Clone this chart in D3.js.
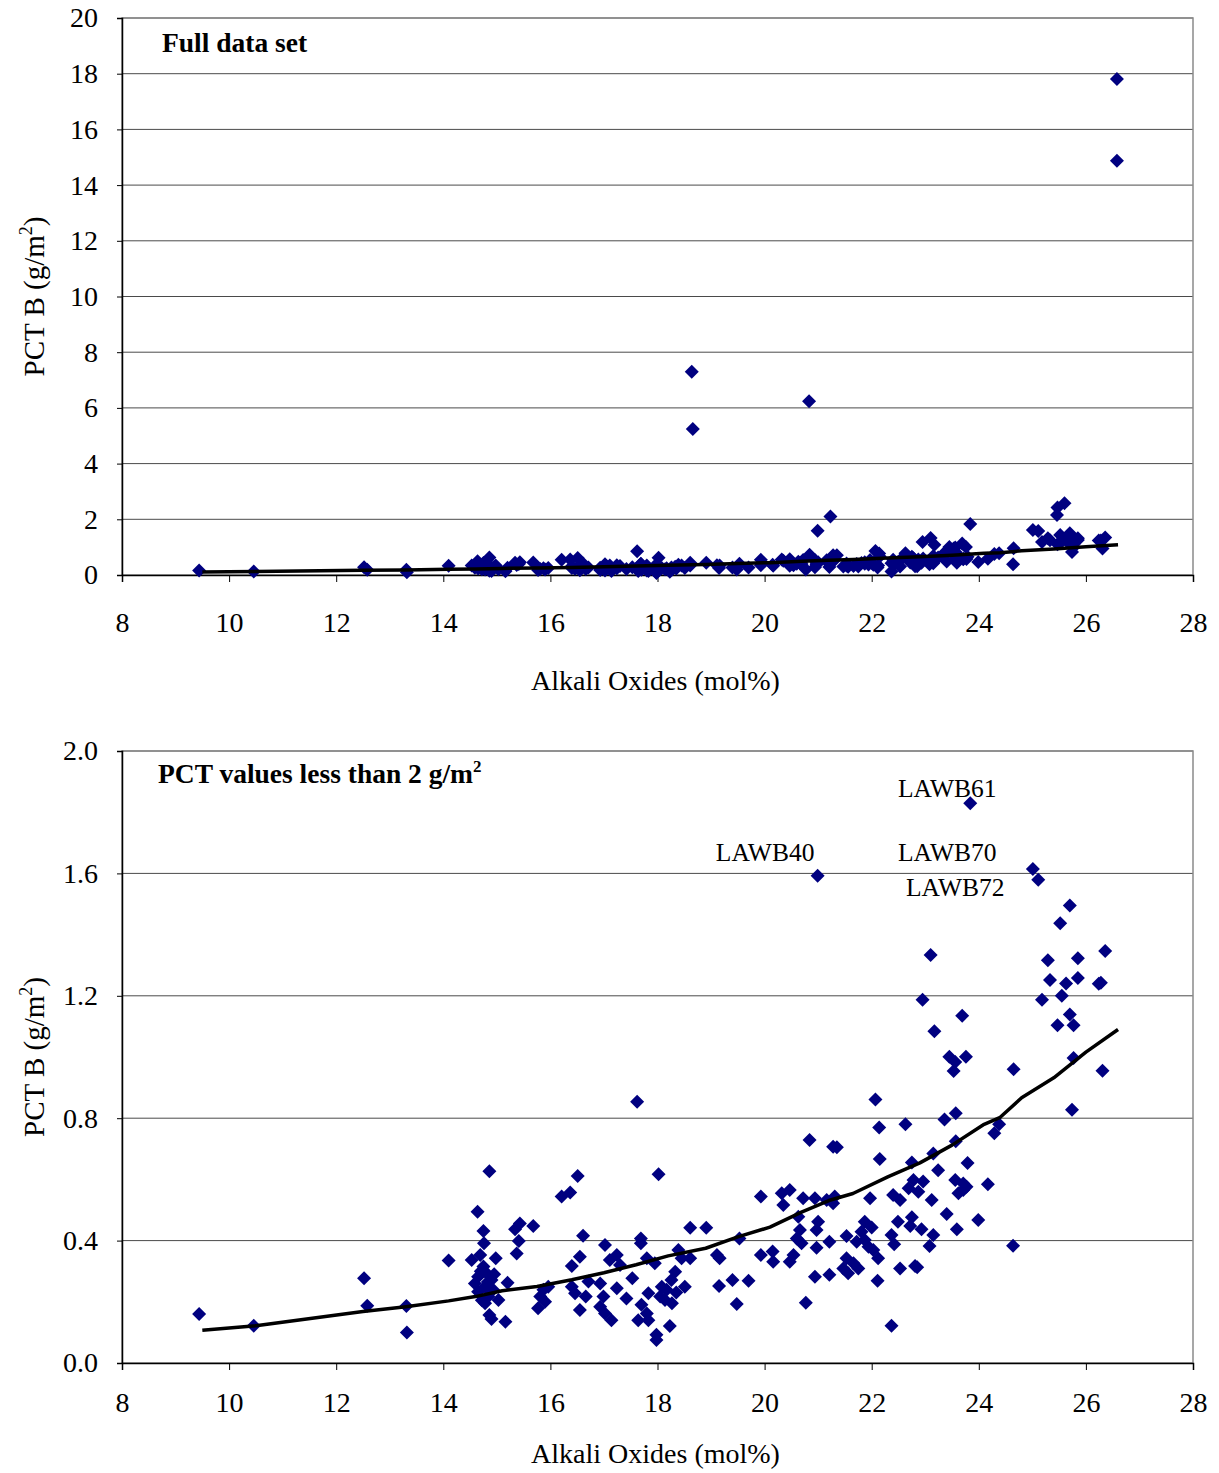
<!DOCTYPE html>
<html>
<head>
<meta charset="utf-8">
<script src="https://cdn.jsdelivr.net/npm/d3@7"></script>
<style>
  body { margin: 0; background: #fff; }
  svg { display: block; font-family: "Liberation Serif", "Times New Roman", serif; }
</style>
</head>
<body>
<svg id="chart" width="1219" height="1473"></svg>
<script>
// alkali oxides (mol%) and PCT B (g/m2)
var alkali = [
  9.44, 10.46, 12.52, 12.58, 13.31, 13.32, 14.10,
  14.53, 14.59, 14.64, 14.65, 14.65, 14.69, 14.75, 14.76, 14.75, 14.78, 14.78, 14.81, 14.84, 14.86, 14.86,
  14.90, 14.90, 14.93, 14.98, 15.03, 15.16, 15.20, 14.70, 14.83, 14.72, 14.95,
  15.34, 15.43, 15.68, 15.41, 15.37, 15.77, 15.81, 15.87, 15.90, 15.96,
  16.21, 16.37, 16.51, 16.61, 16.55, 16.40, 16.40, 16.46, 16.66, 16.71, 16.55, 16.93, 17.02, 16.99, 16.93, 17.02, 17.14,
  17.11, 17.24, 17.30, 17.24, 17.42, 17.53, 17.62, 17.69, 17.69, 17.80, 17.95, 17.83, 17.70, 17.80, 17.64, 17.83, 17.98, 17.98,
  18.02, 18.23, 18.08, 18.17, 18.05, 18.27, 18.14, 18.26, 18.33, 18.39, 18.45, 18.61, 18.51, 18.35, 18.61, 18.91, 18.64, 18.66,
  19.11, 19.16, 19.15, 19.40, 19.48, 19.70, 19.53, 19.93, 19.93,
  20.15, 20.16, 20.32, 20.47, 20.35, 20.72, 20.94, 20.63, 20.66, 20.60, 20.69, 20.54, 20.47, 20.97, 20.94, 20.77, 20.84, 20.99, 20.83,
  21.00, 20.97,
  21.23, 21.28, 21.35, 21.16, 21.31, 21.28, 21.21, 21.53, 21.87, 22.00, 21.81, 21.72, 21.87, 21.94, 22.03, 22.12, 21.53, 21.66,
  21.47, 21.56, 21.75, 21.21, 21.97,
  22.15, 22.07, 22.14, 22.63, 22.11, 22.37, 22.40, 22.53, 22.75, 22.78, 22.69, 22.96, 22.87, 22.49, 22.75, 22.72, 22.93, 22.37,
  22.42, 22.53, 22.81, 22.85, 22.95,
  23.10, 23.69, 23.17, 23.45, 23.76, 23.56, 23.53, 23.36, 23.57, 23.57, 23.15, 23.79, 23.24, 23.12, 23.56, 23.71, 23.77, 23.62,
  23.71, 23.40, 23.99, 23.59, 23.15, 23.08, 23.84,
  24.17, 24.38, 24.29, 24.65, 24.64, 25.01, 25.11, 25.70, 25.52, 26.36, 25.29, 25.85, 25.33, 25.63, 25.85, 26.28, 26.24, 25.18,
  25.55, 25.70, 25.47, 25.77, 25.77, 26.31, 25.74, 25.60, 25.47, 25.46, 26.58, 26.58
];
var pct = [
  0.160, 0.122, 0.277, 0.187, 0.186, 0.100, 0.335,
  0.337, 0.260, 0.494, 0.282, 0.233, 0.353, 0.431, 0.391, 0.315, 0.249, 0.195, 0.293, 0.217, 0.627, 0.157,
  0.271, 0.144, 0.239, 0.342, 0.206, 0.135, 0.262, 0.300, 0.265, 0.205, 0.290,
  0.437, 0.456, 0.448, 0.399, 0.358, 0.179, 0.217, 0.239, 0.200, 0.249,
  0.544, 0.557, 0.611, 0.416, 0.347, 0.317, 0.249, 0.228, 0.217, 0.266, 0.173, 0.260, 0.386, 0.217, 0.184, 0.162, 0.140,
  0.337, 0.353, 0.320, 0.244, 0.211, 0.277, 0.854, 0.407, 0.391, 0.342, 0.326, 0.228, 0.190, 0.162, 0.140, 0.140, 0.092, 0.075,
  0.617, 0.121, 0.249, 0.239, 0.217, 0.195, 0.206, 0.271, 0.298, 0.369, 0.342, 0.342, 0.249, 0.230, 0.442, 0.442, 7.30, 5.24,
  0.353, 0.342, 0.252, 0.271, 0.193, 0.269, 0.407, 0.544, 0.353,
  0.364, 0.331, 0.555, 0.565, 0.516, 0.538, 0.538, 0.478, 0.435, 0.407, 0.391, 0.353, 0.331, 0.435, 0.282, 0.197, 0.729, 1.592, 6.24,
  0.462, 0.377,
  2.10, 0.707, 0.705, 0.533, 0.544, 0.522, 0.396, 0.415, 0.462, 0.443, 0.429, 0.396, 0.402, 0.380, 0.369, 0.342, 0.342, 0.326,
  0.309, 0.293, 0.309, 0.288, 0.538,
  0.667, 0.861, 0.770, 0.780, 0.269, 0.122, 0.549, 0.533, 0.655, 0.598, 0.571, 0.593, 0.560, 0.462, 0.476, 0.448, 0.437, 0.418,
  0.388, 0.309, 0.317, 0.313, 1.187,
  1.333, 1.135, 1.084, 1.001, 1.001, 0.984, 0.954, 0.796, 0.816, 0.725, 0.685, 0.654, 0.630, 0.533, 0.598, 0.587, 0.576, 0.555,
  0.565, 0.487, 0.467, 0.437, 0.418, 0.382, 1.829,
  0.584, 0.780, 0.751, 0.960, 0.383, 1.614, 1.579, 1.495, 1.437, 1.346, 1.316, 1.323, 1.252, 1.240, 1.258, 1.243, 1.239, 1.187,
  1.200, 1.139, 1.104, 1.104, 0.997, 0.955, 0.828, 2.58, 2.42, 2.15, 17.81, 14.87
];

// fitted curve as drawn
var trendAlkali = [9.5, 10.5, 12.5, 13.3, 14.1, 14.6, 15.1, 15.75, 16.4, 17.0, 17.6, 18.2, 18.9, 19.5, 20.1, 20.7, 21.2, 21.65, 22.3, 22.9, 23.5, 24.1, 24.4, 24.8, 25.4, 26.0, 26.6];
var trendPct = [0.107, 0.122, 0.168, 0.184, 0.203, 0.217, 0.236, 0.250, 0.272, 0.295, 0.321, 0.350, 0.375, 0.412, 0.444, 0.494, 0.531, 0.554, 0.608, 0.654, 0.712, 0.780, 0.803, 0.867, 0.932, 1.016, 1.090];

var xTicks = [8, 10, 12, 14, 16, 18, 20, 22, 24, 26, 28];
var fullTicks = [0, 2, 4, 6, 8, 10, 12, 14, 16, 18, 20];
var lowTicks = [0, 0.4, 0.8, 1.2, 1.6, 2.0];

// sample labels in the lower panel (data units)
var noteText = ["LAWB61", "LAWB40", "LAWB70", "LAWB72"];
var noteX = [22.49, 19.09, 22.49, 22.64];
var noteY = [1.85, 1.64, 1.64, 1.526];

var svg = d3.select("#chart");
var left = 122, right = 1193;

var points = alkali.map(function(a, i) { return {x: a, y: pct[i]}; });
var trend = trendAlkali.map(function(a, i) { return {x: a, y: trendPct[i]}; });

var x = d3.scaleLinear().domain([8, 28]).range([left, right]);

function drawPanel(opt) {
    var y = d3.scaleLinear().domain([0, opt.ymax]).range([opt.bottom, opt.top]);
    var g = svg.append("g");

    // grid
    g.selectAll("line.grid")
        .data(opt.ticks.filter(function(t) { return t > 0; }))
        .enter()
        .append("line")
        .attr("class", "grid")
        .attr("x1", left).attr("x2", right)
        .attr("y1", function(d) { return y(d); })
        .attr("y2", function(d) { return y(d); })
        .style("stroke", "#4a4a4a")
        .style("stroke-width", 1);

    // plot frame (top/right in grey)
    g.append("rect")
        .attr("x", left).attr("y", opt.top)
        .attr("width", right - left).attr("height", opt.bottom - opt.top)
        .style("fill", "none")
        .style("stroke", "#8a8a8a")
        .style("stroke-width", 1.5);

    var yAxis = g.append("g")
        .attr("transform", "translate(" + left + ",0)")
        .call(d3.axisLeft(y).tickValues(opt.ticks).tickFormat(opt.fmt).tickSize(5).tickPadding(19));
    var xAxis = g.append("g")
        .attr("transform", "translate(0," + opt.bottom + ")")
        .call(d3.axisBottom(x).tickValues(xTicks).tickFormat(d3.format("d")).tickSize(7).tickPadding(opt.xpad));

    [yAxis, xAxis].forEach(function(ax) {
        ax.select(".domain").style("stroke", "#000").style("stroke-width", 1.5);
        ax.selectAll(".tick line").style("stroke", "#000");
        ax.selectAll("text")
            .style("font-family", "Liberation Serif")
            .style("font-size", "28px")
            .style("fill", "#000");
    });

    // data
    var shown = points.filter(function(d) { return d.y <= opt.ymax; });
    g.selectAll("path.pt")
        .data(shown)
        .enter()
        .append("path")
        .attr("class", "pt")
        .attr("d", "M0,-7L7,0L0,7L-7,0Z")
        .attr("transform", function(d) { return "translate(" + x(d.x) + "," + y(d.y) + ")"; })
        .style("fill", "#000080");

    var line = d3.line()
        .x(function(d) { return x(d.x); })
        .y(function(d) { return y(d.y); });
    g.append("path")
        .datum(trend)
        .attr("d", line)
        .style("fill", "none")
        .style("stroke", "#000")
        .style("stroke-width", 3.5)
        .style("stroke-linejoin", "round");

    // axis titles
    g.append("text")
        .attr("x", (left + right) / 2 - 2)
        .attr("y", opt.xTitleY)
        .attr("text-anchor", "middle")
        .style("font-size", "28px")
        .text("Alkali Oxides (mol%)");

    var yt = g.append("text")
        .attr("transform", "translate(44," + ((opt.top + opt.bottom) / 2) + ") rotate(-90)")
        .attr("text-anchor", "middle")
        .style("font-size", "29px");
    yt.append("tspan").text("PCT B (g/m");
    yt.append("tspan").attr("dy", -12).style("font-size", "18px").text("2");
    yt.append("tspan").attr("dy", 12).text(")");

    var title = g.append("text")
        .attr("x", opt.titleX)
        .attr("y", opt.titleY)
        .style("font-size", "27.5px")
        .style("font-weight", "bold");
    title.append("tspan").text(opt.title);
    if (opt.sup) {
        title.append("tspan").attr("dy", -11).style("font-size", "17px").text(opt.sup);
    }
    return y;
}

drawPanel({
    top: 18, bottom: 575, ymax: 20, ticks: fullTicks, fmt: d3.format("d"),
    xpad: 30, xTitleY: 690, title: "Full data set", titleX: 162, titleY: 52
});

var yLow = drawPanel({
    top: 751, bottom: 1363, ymax: 2, ticks: lowTicks, fmt: d3.format(".1f"),
    xpad: 22, xTitleY: 1463, title: "PCT values less than 2 g/m", sup: "2", titleX: 158, titleY: 783
});

svg.selectAll("text.note")
    .data(noteText)
    .enter()
    .append("text")
    .attr("class", "note")
    .attr("x", function(d, i) { return x(noteX[i]); })
    .attr("y", function(d, i) { return yLow(noteY[i]); })
    .style("font-size", "25.5px")
    .text(function(d) { return d; });
</script>
</body>
</html>
